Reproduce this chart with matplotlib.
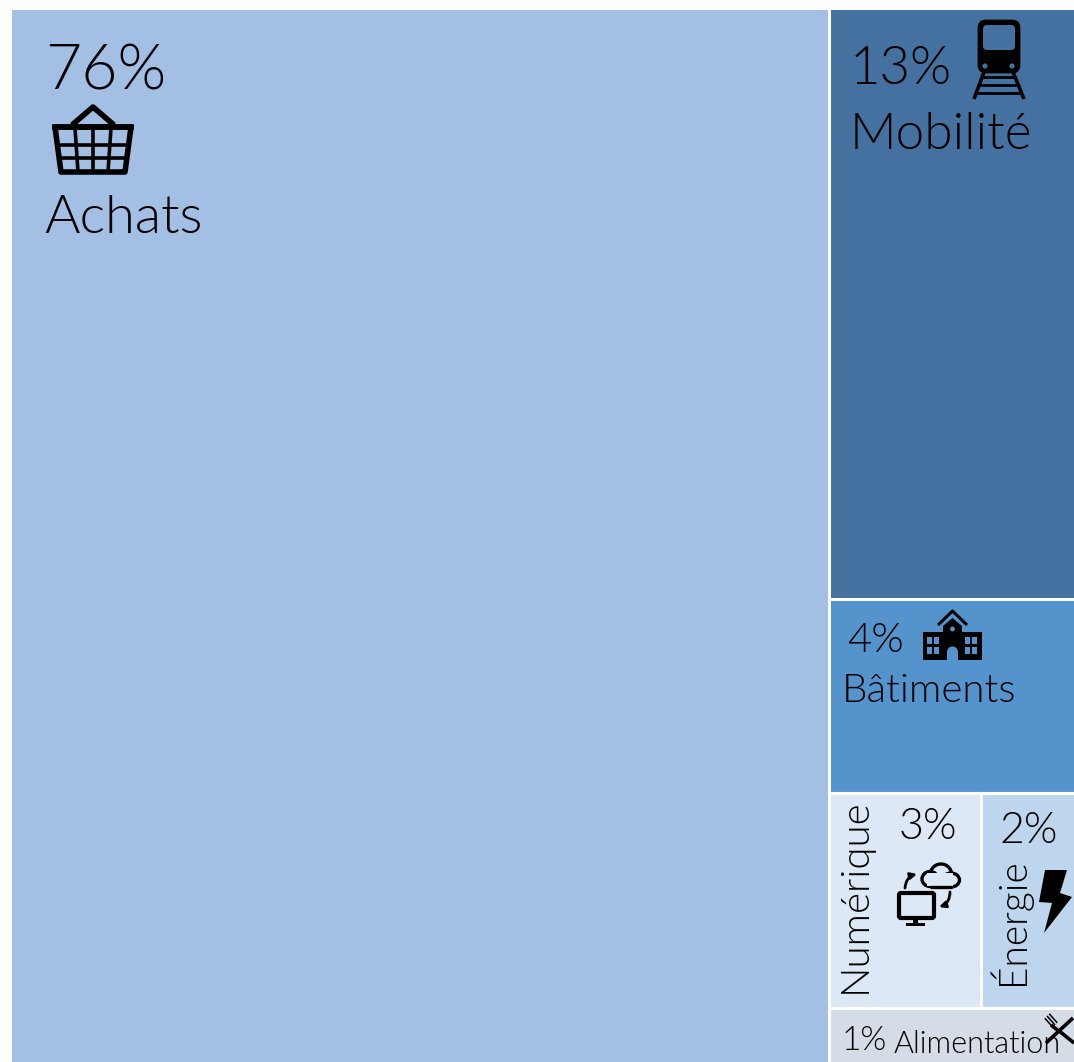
import matplotlib
matplotlib.use("Agg")
import matplotlib.pyplot as plt
from matplotlib.patches import Rectangle, Polygon, FancyBboxPatch, Circle, Ellipse, FancyArrowPatch, Wedge

categories = ["Achats", "Mobilité", "Bâtiments", "Numérique", "Énergie", "Alimentation"]
shares = [76.92, 12.92, 4.24, 2.89, 1.81, 1.22]
pct_labels = ["76%", "13%", "4%", "3%", "2%", "1%"]
colors = ["#A3BFE4", "#44719F", "#5593CC", "#DCE8F5", "#BDD6EE", "#D6DCE5"]

plt.rcParams['font.family'] = ['Lato', 'DejaVu Sans']
W, H = 1074, 1062
fig = plt.figure(figsize=(W / 100, H / 100), dpi=100)
ax = fig.add_axes([0, 0, 1, 1])
ax.set_xlim(0, W)
ax.set_ylim(H, 0)
ax.axis('off')

# treemap layout: big block left, right column stacked, one row split in two
X0, Y0, TW, TH = 9.5, 7.5, 1066, 1056
total = sum(shares)
wl = TW * shares[0] / total
wr = TW - wl
right = sum(shares[1:])
h1 = TH * shares[1] / right
h2 = TH * shares[2] / right
h3 = TH * (shares[3] + shares[4]) / right
h4 = TH * shares[5] / right
w3 = wr * shares[3] / (shares[3] + shares[4])
xr = X0 + wl
rects = [
    (X0, Y0, wl, TH),
    (xr, Y0, wr, h1),
    (xr, Y0 + h1, wr, h2),
    (xr, Y0 + h1 + h2, w3, h3),
    (xr + w3, Y0 + h1 + h2, wr - w3, h3),
    (xr, Y0 + h1 + h2 + h3, wr, h4),
]
for r, c in zip(rects, colors):
    ax.add_patch(Rectangle((r[0], r[1]), r[2], r[3], fc=c, ec='white', lw=2.2))

k = 'black'


def line(pts, lw=3.0, cap='butt'):
    xs, ys = zip(*pts)
    ax.plot(xs, ys, color=k, lw=lw, solid_capstyle=cap, solid_joinstyle='round')


# basket
ax.add_patch(Polygon([(55, 127), (131, 127), (125, 172), (61, 172)], closed=True, fc='none', ec=k, lw=4.0, joinstyle='round'))
line([(52, 127), (134, 127)], 4.0)
line([(72, 125), (93, 107), (114, 125)], 4.0)
for x0, x1 in [(75, 78), (93, 93), (111, 108)]:
    line([(x0, 128), (x1, 172)], 2.6)
line([(57, 145), (128, 145)], 2.6)
line([(59, 158), (126, 158)], 2.6)

# train
ax.add_patch(FancyBboxPatch((979, 21), 40, 51, boxstyle="round,pad=0,rounding_size=7", fc=k, ec=k, lw=2))
ax.add_patch(FancyBboxPatch((983, 25), 32, 25, boxstyle="round,pad=0,rounding_size=4", fc="#44719F", ec='none'))
ax.add_patch(Circle((985, 66), 2.6, fc="#44719F", ec='none'))
ax.add_patch(Circle((1012, 66), 2.6, fc="#44719F", ec='none'))
line([(984, 72), (974, 99)], 2.6)
line([(1013, 72), (1024, 99)], 2.6)
for y, x0, x1 in [(77, 982, 1015), (85, 979, 1018), (93, 976, 1021)]:
    line([(x0, y), (x1, y)], 2.0)

# school
ax.add_patch(Rectangle((923, 632), 59, 28, fc=k, ec='none'))
ax.add_patch(Polygon([(943, 660), (943, 626), (952.5, 618), (962, 626), (962, 660)], closed=True, fc=k, ec='none'))
line([(938, 625), (952.5, 611), (967, 625)], 2.2)
ax.add_patch(Circle((952.5, 629), 2.4, fc="#5593CC", ec='none'))
ax.add_patch(Wedge((952.5, 652), 5.5, 180, 360, fc="#5593CC", ec='none'))
ax.add_patch(Rectangle((947, 652), 11, 8, fc="#5593CC", ec='none'))
for x in [927, 934, 965, 972]:
    for y in [637, 647]:
        ax.add_patch(Rectangle((x, y), 5, 6.5, fc="#5593CC", ec='none'))

# screen and cloud
ax.add_patch(FancyBboxPatch((899, 893), 35, 25, boxstyle="round,pad=0,rounding_size=2", fc='none', ec=k, lw=3.0))
ax.add_patch(Rectangle((913, 919), 5, 5, fc=k, ec='none'))
ax.add_patch(Rectangle((906, 923), 19, 3, fc=k, ec='none'))
for (cx, cy, w, h) in [(930, 879, 16, 15), (941, 874, 21, 20), (951, 880, 17, 14)]:
    ax.add_patch(Ellipse((cx, cy), w, h, fc='none', ec=k, lw=2.4))
ax.add_patch(Rectangle((927, 873), 26, 13, fc="#DCE8F5", ec='none'))
line([(930, 887), (952, 887)], 2.4)
ax.add_patch(FancyArrowPatch((905, 888), (917, 874), connectionstyle="arc3,rad=-0.35", arrowstyle='-|>', mutation_scale=9, color=k, lw=2.0, shrinkA=0, shrinkB=0))
ax.add_patch(FancyArrowPatch((950, 892), (939, 907), connectionstyle="arc3,rad=-0.35", arrowstyle='-|>', mutation_scale=9, color=k, lw=2.0, shrinkA=0, shrinkB=0))

# lightning bolt
ax.add_patch(Polygon([(1045, 870), (1067, 870), (1060, 893), (1072, 897), (1044, 933), (1052, 903), (1039, 902)], closed=True, fc=k, ec='none'))

# cutlery
line([(1046, 1043), (1073, 1018)], 2.6)
line([(1058, 1030), (1074, 1043)], 2.6)
for dx, dy in [(0, 0), (2.2, -2.2), (-2.2, 2.2)]:
    line([(1047 + dx, 1016 + dy), (1055 + dx, 1025 + dy)], 1.1)
line([(1051, 1025), (1060, 1032)], 2.6)

# labels: text, x, baseline y, size, rotation
ff = dict(fontweight=300, color='black', ha='left', va='baseline', rotation_mode='anchor')
labels = [
    (pct_labels[0], 45, 90, 45, 0),
    (categories[0], 44, 233, 39, 0),
    (pct_labels[1], 850, 84, 38, 0),
    (categories[1], 850, 149, 37, 0),
    (pct_labels[2], 847, 652, 30, 0),
    (categories[2], 842, 702, 29, 0),
    (pct_labels[3], 899, 839, 31, 0),
    (categories[3], 866, 993, 29, 90),
    (pct_labels[4], 1000, 843, 31, 0),
    (categories[4], 1024, 985, 28, 90),
    (pct_labels[5], 842, 1050, 24, 0),
    (categories[5], 894, 1053, 22, 0),
]
for s, x, y, fs, rot in labels:
    ax.text(x, y, s, fontsize=fs, rotation=rot, **ff)

fig.savefig("out.png", dpi=100)
